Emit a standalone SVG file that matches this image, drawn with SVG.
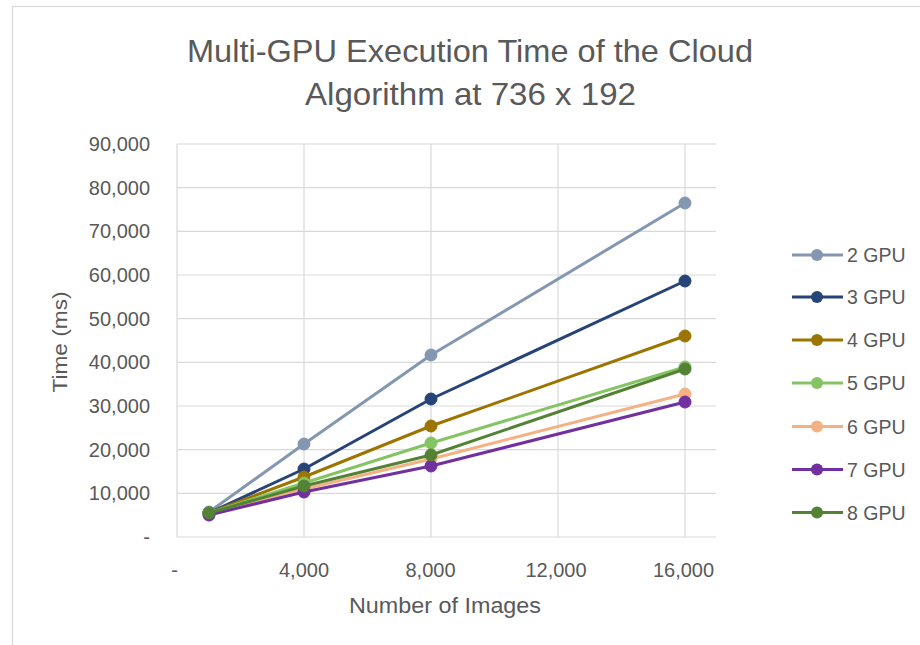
<svg xmlns="http://www.w3.org/2000/svg" width="920" height="645" viewBox="0 0 920 645">
<style>
  text { font-family: "Liberation Sans", Arial, sans-serif; fill: #595959; }
  .tick { font-size: 20px; }
  .ytick { text-anchor: end; }
  .xtick { text-anchor: middle; }
  .grid line { stroke: #d9d9d9; stroke-width: 1.2; }
  .series polyline { fill: none; stroke-width: 3; stroke-linejoin: round; }
  .leg line { stroke-width: 3; }
  .leg text { font-size: 19.5px; }
</style>
<rect x="0" y="0" width="920" height="645" fill="#ffffff"/>
<rect x="12.5" y="6.5" width="930" height="660" fill="#ffffff" stroke="#d9d9d9" stroke-width="1.2"/>

<g id="title">
  <text x="470" y="62" font-size="32" text-anchor="middle" textLength="566" lengthAdjust="spacingAndGlyphs">Multi-GPU Execution Time of the Cloud</text>
  <text x="470.5" y="105" font-size="32" text-anchor="middle" textLength="331" lengthAdjust="spacingAndGlyphs">Algorithm at 736 x 192</text>
</g>

<g id="gridlines" class="grid">
  <line x1="177" y1="144" x2="716" y2="144"/>
  <line x1="177" y1="187.7" x2="716" y2="187.7"/>
  <line x1="177" y1="231.3" x2="716" y2="231.3"/>
  <line x1="177" y1="275" x2="716" y2="275"/>
  <line x1="177" y1="318.7" x2="716" y2="318.7"/>
  <line x1="177" y1="362.3" x2="716" y2="362.3"/>
  <line x1="177" y1="406" x2="716" y2="406"/>
  <line x1="177" y1="449.7" x2="716" y2="449.7"/>
  <line x1="177" y1="493.3" x2="716" y2="493.3"/>
  <line x1="304" y1="144" x2="304" y2="537"/>
  <line x1="431" y1="144" x2="431" y2="537"/>
  <line x1="558" y1="144" x2="558" y2="537"/>
  <line x1="685" y1="144" x2="685" y2="537"/>
  <line x1="177" y1="144" x2="177" y2="537"/>
  <line x1="177" y1="537" x2="716" y2="537"/>
</g>

<g id="y-axis">
  <text class="tick ytick" x="150" y="151">90,000</text>
  <text class="tick ytick" x="150" y="194.7">80,000</text>
  <text class="tick ytick" x="150" y="238.3">70,000</text>
  <text class="tick ytick" x="150" y="282">60,000</text>
  <text class="tick ytick" x="150" y="325.7">50,000</text>
  <text class="tick ytick" x="150" y="369.3">40,000</text>
  <text class="tick ytick" x="150" y="413">30,000</text>
  <text class="tick ytick" x="150" y="456.7">20,000</text>
  <text class="tick ytick" x="150" y="500.3">10,000</text>
  <text class="tick ytick" x="150" y="544">-</text>
  <text x="67" y="342" font-size="21" text-anchor="middle" transform="rotate(-90 67 342)" textLength="101" lengthAdjust="spacingAndGlyphs">Time (ms)</text>
</g>

<g id="x-axis">
  <text class="tick xtick" x="174.5" y="577">-</text>
  <text class="tick xtick" x="304" y="577">4,000</text>
  <text class="tick xtick" x="430.5" y="577">8,000</text>
  <text class="tick xtick" x="556" y="577">12,000</text>
  <text class="tick xtick" x="683.5" y="577">16,000</text>
  <text x="445" y="613" font-size="22" text-anchor="middle" textLength="192" lengthAdjust="spacingAndGlyphs">Number of Images</text>
</g>

<g id="series" class="series">
  <g id="s2" stroke="#8497b0" fill="#8497b0">
    <polyline points="209,512 304,444 431,355 685,203"/>
    <circle cx="209" cy="512" r="6"/><circle cx="304" cy="444" r="6"/><circle cx="431" cy="355" r="6"/><circle cx="685" cy="203" r="6"/>
  </g>
  <g id="s3" stroke="#264478" fill="#264478">
    <polyline points="209,513 304,469 431,399 685,281"/>
    <circle cx="209" cy="513" r="6"/><circle cx="304" cy="469" r="6"/><circle cx="431" cy="399" r="6"/><circle cx="685" cy="281" r="6"/>
  </g>
  <g id="s4" stroke="#9c7400" fill="#9c7400">
    <polyline points="209,513 304,477 431,426 685,336"/>
    <circle cx="209" cy="513" r="6"/><circle cx="304" cy="477" r="6"/><circle cx="431" cy="426" r="6"/><circle cx="685" cy="336" r="6"/>
  </g>
  <g id="s5" stroke="#84c463" fill="#84c463">
    <polyline points="209,513 304,483 431,443 685,367"/>
    <circle cx="209" cy="513" r="6"/><circle cx="304" cy="483" r="6"/><circle cx="431" cy="443" r="6"/><circle cx="685" cy="367" r="6"/>
  </g>
  <g id="s6" stroke="#f4b183" fill="#f4b183">
    <polyline points="209,515 304,489 431,459 685,394"/>
    <circle cx="209" cy="515" r="6"/><circle cx="304" cy="489" r="6"/><circle cx="431" cy="459" r="6"/><circle cx="685" cy="394" r="6"/>
  </g>
  <g id="s7" stroke="#7030a0" fill="#7030a0">
    <polyline points="209,515 304,492 431,466 685,402"/>
    <circle cx="209" cy="515" r="6"/><circle cx="304" cy="492" r="6"/><circle cx="431" cy="466" r="6"/><circle cx="685" cy="402" r="6"/>
  </g>
  <g id="s8" stroke="#548235" fill="#548235">
    <polyline points="209,513 304,486 431,455 685,369"/>
    <circle cx="209" cy="513" r="6"/><circle cx="304" cy="486" r="6"/><circle cx="431" cy="455" r="6"/><circle cx="685" cy="369" r="6"/>
  </g>
</g>

<g id="legend" class="leg">
  <g id="leg2"><line x1="792" y1="255" x2="843" y2="255" stroke="#8497b0"/><circle cx="817" cy="255" r="6" fill="#8497b0"/><text x="847" y="262">2 GPU</text></g>
  <g id="leg3"><line x1="792" y1="297" x2="843" y2="297" stroke="#264478"/><circle cx="817" cy="297" r="6" fill="#264478"/><text x="847" y="304">3 GPU</text></g>
  <g id="leg4"><line x1="792" y1="340" x2="843" y2="340" stroke="#9c7400"/><circle cx="817" cy="340" r="6" fill="#9c7400"/><text x="847" y="347">4 GPU</text></g>
  <g id="leg5"><line x1="792" y1="383" x2="843" y2="383" stroke="#84c463"/><circle cx="817" cy="383" r="6" fill="#84c463"/><text x="847" y="390">5 GPU</text></g>
  <g id="leg6"><line x1="792" y1="426.5" x2="843" y2="426.5" stroke="#f4b183"/><circle cx="817" cy="426.5" r="6" fill="#f4b183"/><text x="847" y="433.5">6 GPU</text></g>
  <g id="leg7"><line x1="792" y1="469.5" x2="843" y2="469.5" stroke="#7030a0"/><circle cx="817" cy="469.5" r="6" fill="#7030a0"/><text x="847" y="476.5">7 GPU</text></g>
  <g id="leg8"><line x1="792" y1="512.5" x2="843" y2="512.5" stroke="#548235"/><circle cx="817" cy="512.5" r="6" fill="#548235"/><text x="847" y="519.5">8 GPU</text></g>
</g>
</svg>
